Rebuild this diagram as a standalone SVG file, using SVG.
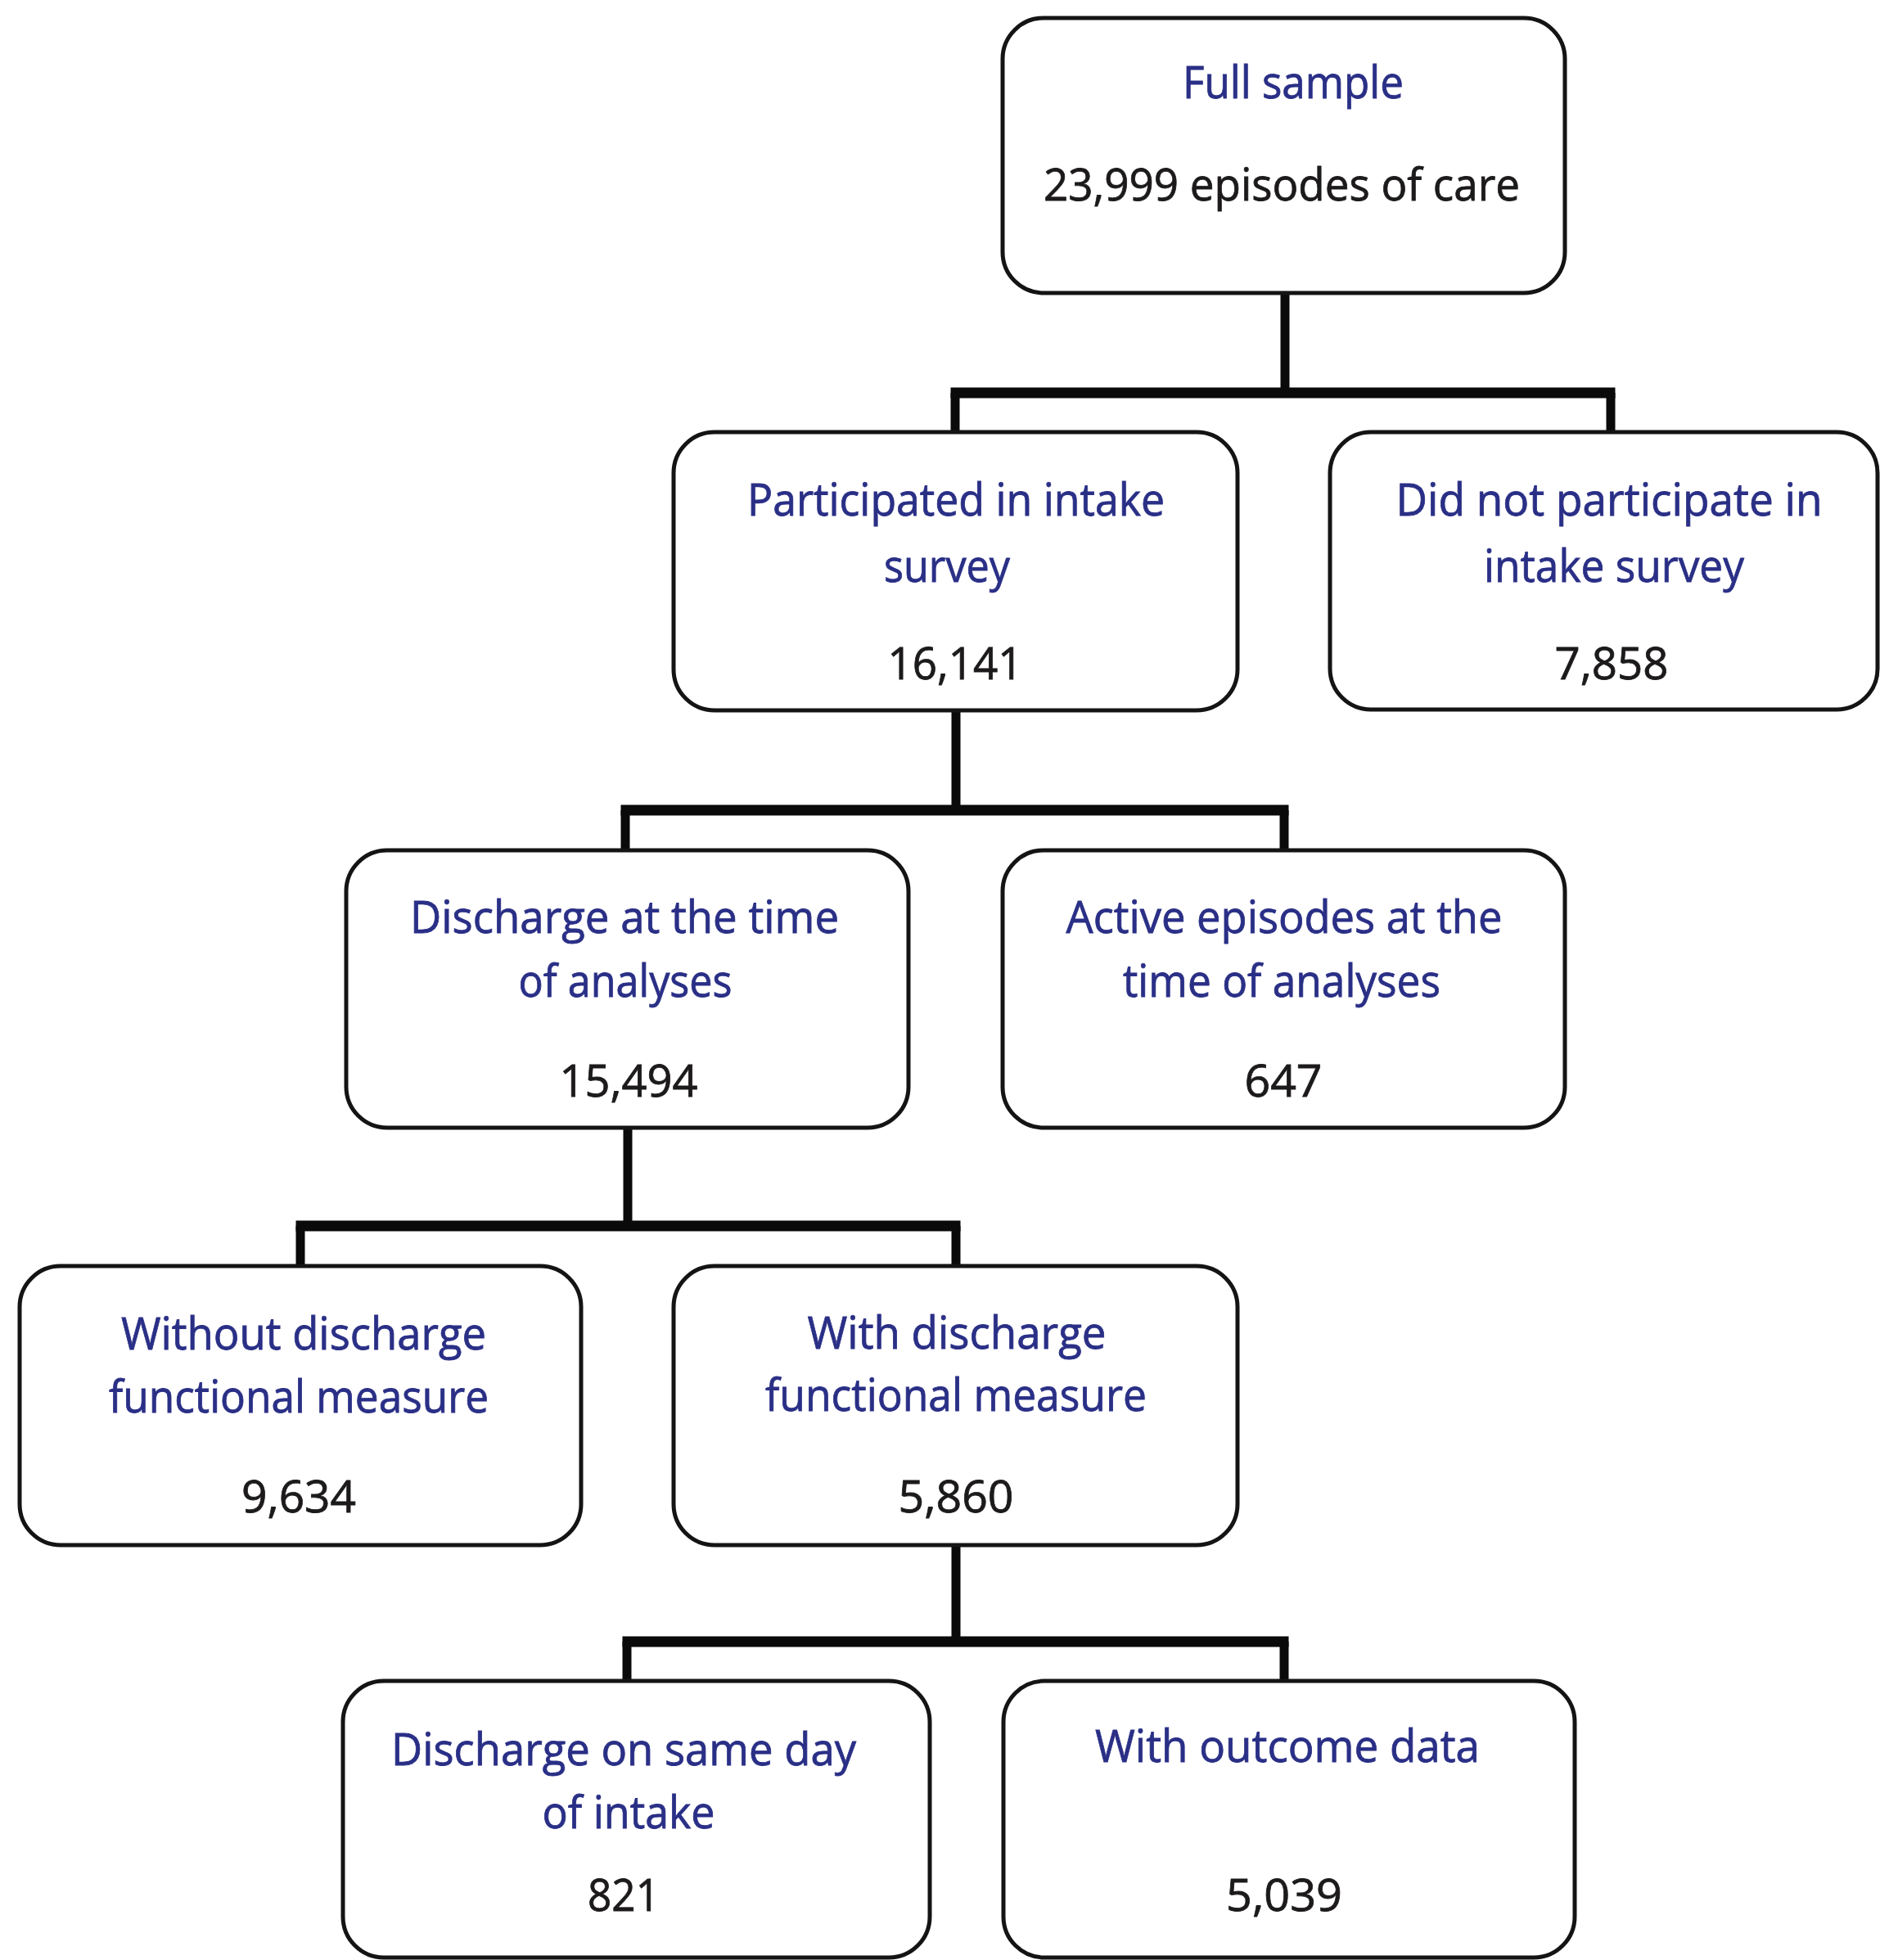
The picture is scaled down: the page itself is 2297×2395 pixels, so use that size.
<svg xmlns="http://www.w3.org/2000/svg" width="2297" height="2395" viewBox="0 0 2297 2395">
<style>
.box{fill:#ffffff;stroke:#141414;stroke-width:5}
.v{stroke:#0a0a0a;stroke-width:11;fill:none}
.h{stroke:#0a0a0a;stroke-width:13;fill:none}
text{font-family:"Open Sans","Noto Sans","DejaVu Sans",sans-serif;font-size:55px;text-anchor:middle;stroke-width:0.8}
.lbl{fill:#2a2f86;stroke:#2a2f86}
.num{fill:#1c1a1a;stroke:#1c1a1a}
</style>
<rect width="2297" height="2395" fill="#ffffff"/>
<g id="connectors">
<line class="v" x1="1570" y1="358" x2="1570" y2="480"/>
<line class="h" x1="1161.5" y1="480" x2="1973.5" y2="480"/>
<line class="v" x1="1167" y1="480" x2="1167" y2="528"/>
<line class="v" x1="1968" y1="480" x2="1968" y2="528"/>

<line class="v" x1="1168" y1="868" x2="1168" y2="990"/>
<line class="h" x1="758.5" y1="990" x2="1574.5" y2="990"/>
<line class="v" x1="764" y1="990" x2="764" y2="1039"/>
<line class="v" x1="1569" y1="990" x2="1569" y2="1039"/>

<line class="v" x1="767" y1="1378" x2="767" y2="1498"/>
<line class="h" x1="361.5" y1="1498" x2="1173.5" y2="1498"/>
<line class="v" x1="367" y1="1498" x2="367" y2="1547"/>
<line class="v" x1="1168" y1="1498" x2="1168" y2="1547"/>

<line class="v" x1="1168" y1="1888" x2="1168" y2="2006"/>
<line class="h" x1="760.5" y1="2006" x2="1574.5" y2="2006"/>
<line class="v" x1="766" y1="2006" x2="766" y2="2054"/>
<line class="v" x1="1569" y1="2006" x2="1569" y2="2054"/>
</g>
<g id="full-sample">
<rect class="box" x="1225" y="22" width="687" height="336" rx="50"/>
<text class="lbl" x="1580" y="120" textLength="270" lengthAdjust="spacingAndGlyphs">Full sample</text>
<text class="num" x="1566" y="245" textLength="582" lengthAdjust="spacingAndGlyphs">23,999 episodes of care</text>
</g>
<g id="participated">
<rect class="box" x="823" y="528" width="689" height="340" rx="50"/>
<text class="lbl" x="1168" y="630" textLength="510" lengthAdjust="spacingAndGlyphs">Participated in intake</text>
<text class="lbl" x="1157" y="711" textLength="154" lengthAdjust="spacingAndGlyphs">survey</text>
<text class="num" x="1167" y="830" textLength="165" lengthAdjust="spacingAndGlyphs">16,141</text>
</g>
<g id="not-participated">
<rect class="box" x="1625" y="528" width="669" height="339" rx="50"/>
<text class="lbl" x="1966" y="630" textLength="521" lengthAdjust="spacingAndGlyphs">Did not participate in</text>
<text class="lbl" x="1972" y="711" textLength="318" lengthAdjust="spacingAndGlyphs">intake survey</text>
<text class="num" x="1969" y="830" textLength="139" lengthAdjust="spacingAndGlyphs">7,858</text>
</g>
<g id="discharge-analyses">
<rect class="box" x="423" y="1039" width="687" height="339" rx="50"/>
<text class="lbl" x="763" y="1140" textLength="524" lengthAdjust="spacingAndGlyphs">Discharge at the time</text>
<text class="lbl" x="764" y="1218" textLength="261" lengthAdjust="spacingAndGlyphs">of analyses</text>
<text class="num" x="768" y="1340" textLength="169" lengthAdjust="spacingAndGlyphs">15,494</text>
</g>
<g id="active-episodes">
<rect class="box" x="1225" y="1039" width="687" height="339" rx="50"/>
<text class="lbl" x="1569" y="1140" textLength="533" lengthAdjust="spacingAndGlyphs">Active episodes at the</text>
<text class="lbl" x="1566" y="1218" textLength="388" lengthAdjust="spacingAndGlyphs">time of analyses</text>
<text class="num" x="1568" y="1340" textLength="95" lengthAdjust="spacingAndGlyphs">647</text>
</g>
<g id="without-measure">
<rect class="box" x="24" y="1547" width="686" height="341" rx="50"/>
<text class="lbl" x="371" y="1649" textLength="446" lengthAdjust="spacingAndGlyphs">Without discharge</text>
<text class="lbl" x="365" y="1726" textLength="464" lengthAdjust="spacingAndGlyphs">functional measure</text>
<text class="num" x="365" y="1848" textLength="140" lengthAdjust="spacingAndGlyphs">9,634</text>
</g>
<g id="with-measure">
<rect class="box" x="823" y="1547" width="689" height="341" rx="50"/>
<text class="lbl" x="1169" y="1648" textLength="365" lengthAdjust="spacingAndGlyphs">With discharge</text>
<text class="lbl" x="1168" y="1724" textLength="466" lengthAdjust="spacingAndGlyphs">functional measure</text>
<text class="num" x="1168" y="1848" textLength="141" lengthAdjust="spacingAndGlyphs">5,860</text>
</g>
<g id="same-day">
<rect class="box" x="419" y="2054" width="717" height="338" rx="50"/>
<text class="lbl" x="762" y="2157" textLength="568" lengthAdjust="spacingAndGlyphs">Discharge on same day</text>
<text class="lbl" x="768" y="2234" textLength="211" lengthAdjust="spacingAndGlyphs">of intake</text>
<text class="num" x="762" y="2335" textLength="88" lengthAdjust="spacingAndGlyphs">821</text>
</g>
<g id="outcome-data">
<rect class="box" x="1226" y="2054" width="698" height="338" rx="50"/>
<text class="lbl" x="1573" y="2153" textLength="470" lengthAdjust="spacingAndGlyphs">With outcome data</text>
<text class="num" x="1569" y="2335" textLength="142" lengthAdjust="spacingAndGlyphs">5,039</text>
</g>
</svg>
